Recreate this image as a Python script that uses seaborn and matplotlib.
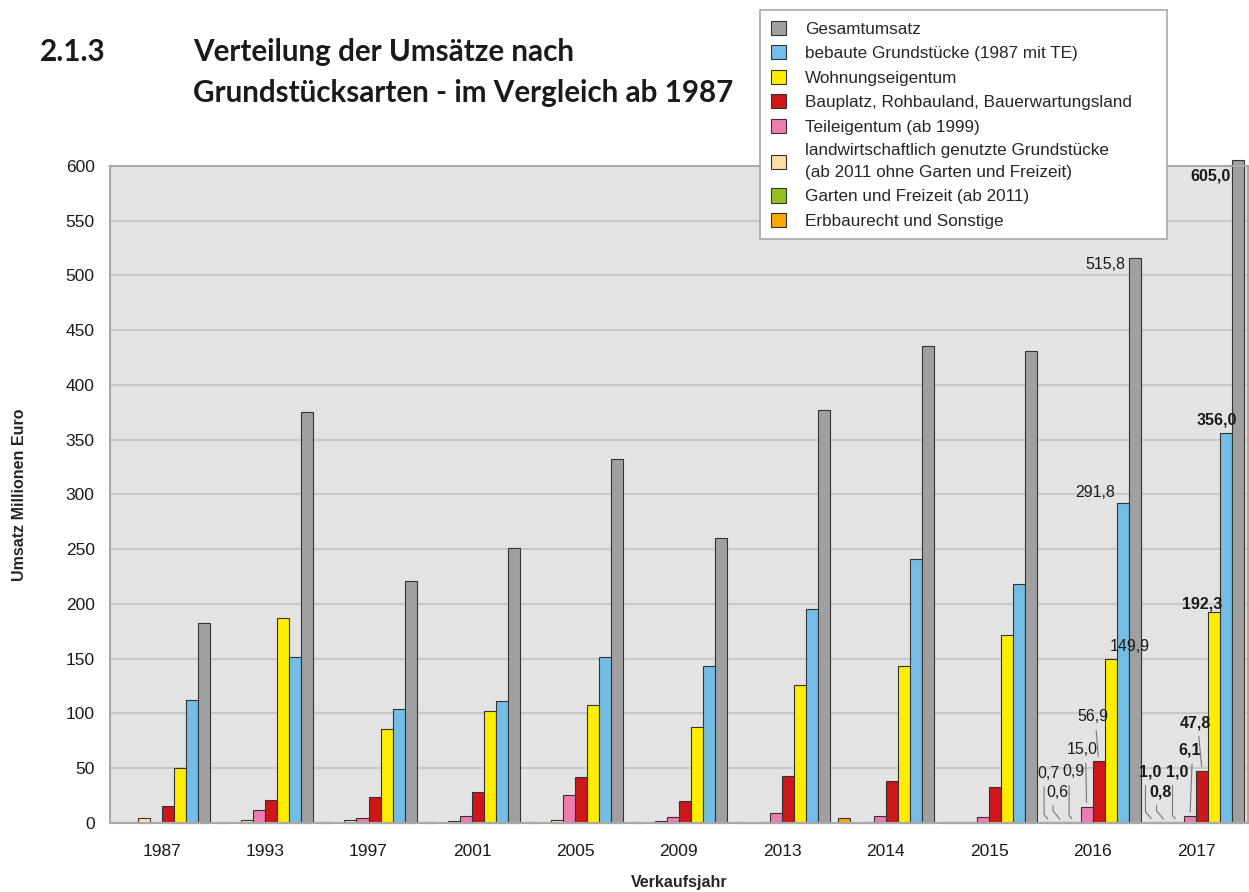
import numpy as np
import pandas as pd
import matplotlib
matplotlib.use("Agg")
import matplotlib.pyplot as plt
import seaborn as sns
from matplotlib.patches import Patch

nan = np.nan

years = ["1987", "1993", "1997", "2001", "2005", "2009", "2013", "2014", "2015", "2016", "2017"]

# values in Mio. Euro
erbbau   = [nan, 0.5, 0.5, 0.5, 0.5, 0.5, 1.2, 4.5, 0.5, 0.7, 1.0]
garten   = [nan, nan, nan, nan, nan, nan, 0.3, 0.3, 0.5, 0.6, 0.8]
landw    = [4.9, 2.7, 2.7, 1.8, 2.5, 1.8, 0.5, 0.5, 1.0, 0.9, 1.0]
teil     = [nan, 11.9, 4.5, 6.4, 25.5, 5.5, 9.0, 6.5, 5.5, 15.0, 6.1]
bauplatz = [15.5, 21.0, 23.7, 28.6, 42.0, 20.4, 43.0, 38.0, 33.0, 56.9, 47.8]
wohnung  = [50.2, 187.0, 85.8, 102.5, 108.0, 88.0, 126.0, 143.0, 172.0, 149.9, 192.3]
bebaut   = [112.0, 151.6, 104.0, 111.0, 152.0, 143.0, 195.0, 241.0, 218.0, 291.8, 356.0]
gesamt   = [182.6, 375.0, 221.0, 251.0, 332.0, 260.0, 377.0, 435.6, 431.0, 515.8, 605.0]

names = [
    "Erbbaurecht und Sonstige",
    "Garten und Freizeit (ab 2011)",
    "landwirtschaftlich genutzte Grundstücke\n(ab 2011 ohne Garten und Freizeit)",
    "Teileigentum (ab 1999)",
    "Bauplatz, Rohbauland, Bauerwartungsland",
    "Wohnungseigentum",
    "bebaute Grundstücke (1987 mit TE)",
    "Gesamtumsatz",
]
colors = ["#f9a800", "#95c11f", "#fddca6", "#ee7cb0", "#cd1719", "#ffed00", "#74bde6", "#a0a0a0"]
series = [erbbau, garten, landw, teil, bauplatz, wohnung, bebaut, gesamt]

labels_2016 = ["0,7", "0,6", "0,9", "15,0", "56,9", "149,9", "291,8", "515,8"]
labels_2017 = ["1,0", "0,8", "1,0", "6,1", "47,8", "192,3", "356,0", "605,0"]

rows = []
for name, vals in zip(names, series):
    for y, v in zip(years, vals):
        rows.append({"Jahr": y, "Art": name, "Umsatz": v})
df = pd.DataFrame(rows)

sns.set_theme(style="white")
plt.rcParams["font.family"] = ["Liberation Sans", "DejaVu Sans"]

fig = plt.figure(figsize=(12.49, 8.92), dpi=100)
ax = fig.add_axes([0.088, 0.0774, 0.911, 0.7366])
ax.set_facecolor("#e3e3e3")

W = 0.93
sns.barplot(data=df, x="Jahr", y="Umsatz", hue="Art", hue_order=names,
            order=years, palette=colors, width=W, errorbar=None, saturation=1,
            edgecolor="#333333", linewidth=0.8, legend=False, ax=ax)
for p in ax.patches:
    p.set_clip_on(False)

ax.set_ylim(0, 600)
ax.set_xlim(-0.5, len(years) - 0.5)
ax.set_yticks(np.arange(0, 601, 50))
ax.yaxis.grid(True, color="#c8c8c8", linewidth=1.5)
ax.set_axisbelow(True)
for s in ax.spines.values():
    s.set_color("#a8a8a8")
    s.set_linewidth(1.5)

ax.tick_params(axis="y", length=0, pad=11, labelsize=12.5, labelcolor="#1a1a1a")
ax.tick_params(axis="x", which="major", length=0, pad=15, labelsize=12.5, labelcolor="#1a1a1a")
ax.set_xticks(np.arange(-0.5, len(years), 1), minor=True)
ax.tick_params(axis="x", which="minor", length=11, width=1.5, color="#b0b0b0", direction="out")

ax.set_xlabel("Verkaufsjahr", fontsize=11.5, fontweight="bold")
ax.set_ylabel("Umsatz Millionen Euro", fontsize=11.5, fontweight="bold")
ax.xaxis.set_label_coords(0.5, -0.079)
ax.yaxis.set_label_coords(-0.073, 0.5)

# value labels for 2016 and 2017
def bar_x(i, j):
    return i - W / 2 + (j + 0.5) * W / 8

offs_2016 = [(-2, 49), (-5, 30), (-1, 50), (-4, 57), (-6, 44), (19, 12), (-8, 11), (-9, -6)]
offs_2017 = [(-4, 50), (-5, 30), (-1, 50), (0, 66), (-7, 48), (-12, 8), (-9, 13), (-28, -16)]
has_line = [True, True, True, True, True, False, False, False]
kinked = [True, True, True, False, False, False, False, False]

for i, labs, offs, bold in [(9, labels_2016, offs_2016, False), (10, labels_2017, offs_2017, True)]:
    for j in range(8):
        v = series[j][i]
        ha = "center"
        if not bold and j in (6, 7):
            ha = "right"
        arrow = None
        if has_line[j]:
            cs = "angle,angleA=90,angleB=130,rad=0" if kinked[j] else "arc3"
            arrow = dict(arrowstyle="-", color="#777777", lw=0.8,
                         shrinkA=2, shrinkB=3, connectionstyle=cs,
                         relpos=(0.3, 0.0) if kinked[j] else (0.6, 0.0))
        ax.annotate(labs[j], xy=(bar_x(i, j), v), xytext=offs[j],
                    textcoords="offset pixels", ha=ha, va="center",
                    fontsize=11.5,
                    fontweight="bold" if bold else "normal",
                    color="#1a1a1a", arrowprops=arrow, annotation_clip=False)

# legend (reverse order, Gesamtumsatz on top)
handles = [Patch(facecolor=c, edgecolor="#333333", linewidth=0.8) for c in colors[::-1]]
leg = fig.legend(handles, names[::-1], loc="upper left",
                 bbox_to_anchor=(760 / 1249, 1 - 242 / 892, 407 / 1249, 232 / 892),
                 mode="expand", fontsize=12.3,
                 frameon=True, fancybox=False, edgecolor="#a8a8a8",
                 framealpha=1, handlelength=0.9, handleheight=0.9,
                 handletextpad=1.1, labelspacing=0.5, borderpad=0.62,
                 borderaxespad=0)
leg.get_frame().set_linewidth(1.2)
leg.get_texts()[5].set_linespacing(1.55)

# title
tfam = ["Lato", "DejaVu Sans"]
fig.text(40 / 1249, 1 - 52 / 892, "2.1.3", fontsize=21.3, fontweight="bold",
         family=tfam, va="center", color="#1a1a1a")
fig.text(193 / 1249, 1 - 52 / 892, "Verteilung der Umsätze nach", fontsize=21.3,
         fontweight="bold", family=tfam, va="center", color="#1a1a1a")
fig.text(193 / 1249, 1 - 93 / 892, "Grundstücksarten - im Vergleich ab 1987",
         fontsize=21.3, fontweight="bold", family=tfam, va="center", color="#1a1a1a")

fig.savefig("out.png", dpi=100)
